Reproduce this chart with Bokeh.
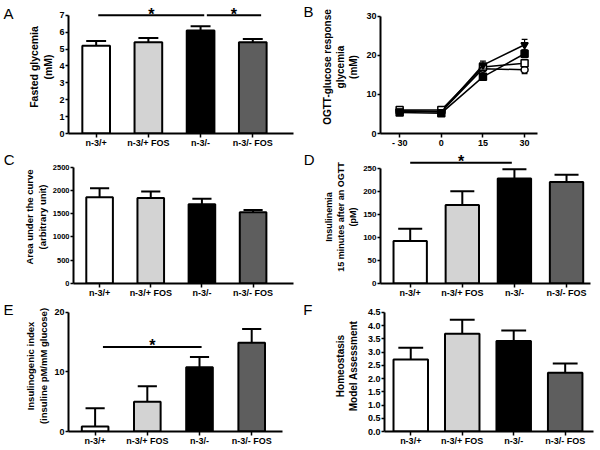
from bokeh.plotting import figure
from bokeh.layouts import column, row
from bokeh.models import FixedTicker, Range1d, LinearAxis
from bokeh.core.properties import value
from bokeh.embed import file_html
from bokeh.resources import INLINE

FONT = "Liberation Sans"

# ---------------- data ----------------
groups = ["n-3/+", "n-3/+ FOS", "n-3/-", "n-3/- FOS"]
bar_colors = ["#ffffff", "#d3d3d3", "#000000", "#5e5e5e"]

fasted_mean = [5.2, 5.4, 6.1, 5.4]
fasted_upper = [5.47, 5.65, 6.35, 5.6]

auc_mean = [1855, 1840, 1705, 1530]
auc_upper = [2050, 1980, 1820, 1578]

insulin_mean = [92, 170, 228, 220]
insulin_upper = [119, 200, 248, 236]

index_mean = [0.85, 5.0, 10.8, 14.9]
index_upper = [3.9, 7.6, 12.5, 17.2]

homa_mean = [2.72, 3.69, 3.42, 2.22]
homa_upper = [3.16, 4.22, 3.82, 2.57]

ogtt_times = ["- 30", "0", "15", "30"]
ogtt_tri = [5.7, 5.5, 17.5, 22.7]
ogtt_tri_err = [0.3, 0.3, 1.0, 1.4]
ogtt_sqf = [5.4, 5.2, 14.5, 20.4]
ogtt_sqf_err = [0.3, 0.3, 0.5, 1.0]
ogtt_sqo = [6.0, 6.0, 17.0, 18.0]
ogtt_sqo_err = [0.3, 0.3, 0.6, 0.9]
ogtt_cir = [5.8, 5.6, 16.6, 16.3]
ogtt_cir_err = [0.3, 0.3, 0.6, 1.0]

# significance bars: (x0, x1, y)
sigA = [(0.04, 2.07, 7.0), (2.12, 3.16, 7.0)]
sigD = [(0.0, 1.95, 262)]
sigE = [(0.15, 2.04, 14.2)]


def style(p, yticks, ybound, ylabel, lab_size, tick_size, xticks, xlabels, lab_standoff=2):
    p.xgrid.visible = False
    p.ygrid.visible = False
    p.outline_line_color = None
    p.background_fill_color = "white"
    p.border_fill_color = "white"
    for ax in (p.xaxis[0], p.yaxis[0]):
        ax.axis_line_width = 2
        ax.axis_line_color = "black"
        ax.major_tick_line_width = 1.5
        ax.major_tick_out = 4
        ax.major_tick_in = 0
        ax.minor_tick_line_color = None
        ax.major_label_text_font = FONT
        ax.major_label_text_font_style = "bold"
        ax.major_label_text_font_size = "9px"
        ax.major_label_text_color = "black"
        ax.axis_label_text_font = FONT
        ax.axis_label_text_font_style = "bold"
        ax.axis_label_text_font_size = lab_size
        ax.axis_label_text_color = "black"
    p.yaxis[0].ticker = FixedTicker(ticks=yticks)
    p.yaxis[0].bounds = (0, ybound)
    p.yaxis[0].axis_label = ylabel
    p.yaxis[0].axis_label_standoff = lab_standoff
    p.yaxis[0].major_label_standoff = 1
    p.yaxis[0].major_tick_out = 3
    p.yaxis[0].major_label_text_font_size = tick_size
    p.xaxis[0].axis_label = None
    p.xaxis[0].ticker = FixedTicker(ticks=xticks)
    p.xaxis[0].major_label_overrides = {t: l for t, l in zip(xticks, xlabels)}
    p.xaxis[0].major_label_standoff = 0


def panel_letter(p, text, fh, cy, standoff):
    # panel letter drawn as the single label of a bare extra axis on the left
    p.extra_y_ranges = {"lab": Range1d(0, fh)}
    t = fh - cy
    ax = LinearAxis(y_range_name="lab", ticker=FixedTicker(ticks=[t]),
                    major_label_overrides={t: text})
    ax.axis_line_color = None
    ax.major_tick_line_color = None
    ax.minor_tick_line_color = None
    ax.major_label_standoff = standoff
    ax.major_label_text_font = FONT
    ax.major_label_text_font_size = "15px"
    ax.major_label_text_font_style = "normal"
    ax.major_label_text_color = "black"
    ax.axis_label = None
    p.add_layout(ax, "left")


def yend_for(top_tick, fh, top_px):
    return top_tick * fh / (fh - top_px)


def bar_panel(means, uppers, ylabel, lab_size, tick_size, yticks, ylabels, top_px, xr, bw,
              width, height, fh, left, right, letter, cy, standoff, lab_standoff=2):
    yend = yend_for(yticks[-1], fh, top_px)
    p = figure(width=width, height=height, x_range=Range1d(*xr), y_range=Range1d(0, yend),
               output_backend="svg", toolbar_location=None,
               min_border_left=left, min_border_right=right, min_border_top=0,
               min_border_bottom=height - fh)
    xs = list(range(len(groups)))
    p.segment(x0=xs, y0=means, x1=xs, y1=uppers, line_color="black", line_width=2)
    cap = bw * 0.36
    p.segment(x0=[x - cap for x in xs], y0=uppers, x1=[x + cap for x in xs], y1=uppers,
              line_color="black", line_width=2)
    p.vbar(x=xs, top=means, width=bw, fill_color=bar_colors, line_color="black", line_width=2)
    style(p, yticks, yticks[-1], ylabel, lab_size, tick_size, xs, groups, lab_standoff)
    p.yaxis[0].major_label_overrides = {t: l for t, l in zip(yticks, ylabels)}
    panel_letter(p, letter, fh, cy, standoff)
    return p


def add_sig(p, sig):
    p.segment(x0=[s[0] for s in sig], y0=[s[2] for s in sig], x1=[s[1] for s in sig],
              y1=[s[2] for s in sig], line_color="black", line_width=2)
    p.text(x=[(s[0] + s[1]) / 2 for s in sig], y=[s[2] for s in sig], text=["*"] * len(sig),
           text_font=value(FONT), text_font_style="bold", text_font_size="16px",
           text_align="center", text_baseline="alphabetic", y_offset=-1, text_color="black")


# Row 1 ------------------------------------------------------------
R1, H1 = 150, 135
pA = bar_panel(fasted_mean, fasted_upper, "Fasted glycemia\n(mM)", "10.5px", "9px",
               [0, 1, 2, 3, 4, 5, 6, 7], ["0", "1", "2", "3", "4", "5", "6", "7"], 15,
               (-0.53, 3.78), 0.53, 300, R1, H1, 57, 7, "A", 13, 6)
add_sig(pA, sigA)

B_xr = (-0.46, 3.31)
pB = figure(width=298, height=R1, x_range=Range1d(*B_xr), y_range=Range1d(0, yend_for(30, H1, 16)),
            output_backend="svg", toolbar_location=None,
            min_border_left=66, min_border_right=61, min_border_top=0, min_border_bottom=R1 - H1)
xs = [0, 1, 2, 3]
series = [(ogtt_cir, ogtt_cir_err, "circle", "white"),
          (ogtt_sqo, ogtt_sqo_err, "square", "white"),
          (ogtt_sqf, ogtt_sqf_err, "square", "black"),
          (ogtt_tri, ogtt_tri_err, "inverted_triangle", "black")]
for vals, errs, mk, fc in series:
    pB.line(xs, vals, line_color="black", line_width=1.5)
    lo = [v - e for v, e in zip(vals, errs)]
    hi = [v + e for v, e in zip(vals, errs)]
    pB.segment(x0=xs, y0=lo, x1=xs, y1=hi, line_color="black", line_width=1.2)
    pB.segment(x0=[x - 0.07 for x in xs], y0=hi, x1=[x + 0.07 for x in xs], y1=hi,
               line_color="black", line_width=1.2)
    pB.segment(x0=[x - 0.07 for x in xs], y0=lo, x1=[x + 0.07 for x in xs], y1=lo,
               line_color="black", line_width=1.2)
    pB.scatter(xs, vals, marker=mk, size=7, fill_color=fc, line_color="black", line_width=1.5)
style(pB, [0, 10, 20, 30], 30, "OGTT-glucose response\nglycemia\n(mM)", "10px", "9px", xs, ogtt_times, 4)
panel_letter(pB, "B", H1, 11, 0)

# Row 2 ------------------------------------------------------------
R2, H2 = 150, 135
pC = bar_panel(auc_mean, auc_upper, "Area under the curve\n(arbitrary unit)", "9.5px", "7.5px",
               [0, 500, 1000, 1500, 2000, 2500], ["0", "500", "1000", "1500", "2000", "2500"], 17,
               (-0.51, 3.79), 0.52, 300, R2, H2, 58, 7, "C", 9, 0)
pD = bar_panel(insulin_mean, insulin_upper, "Insulinemia\n15 minutes after an OGTT\n(pM)", "9px", "8px",
               [0, 50, 100, 150, 200, 250], ["0", "50", "100", "150", "200", "250"], 18,
               (-0.57, 3.46), 0.64, 298, R2, H2, 63, 8, "D", 9, 1)
add_sig(pD, sigD)

# Row 3 ------------------------------------------------------------
R3, H3 = 148, 132
pE = bar_panel(index_mean, index_upper, "Insulinogenic index\n(insuline pM/mM glucose)", "9.5px", "9px",
               [0, 10, 20], ["0", "10", "20"], 12,
               (-0.51, 3.59), 0.51, 300, R3, H3, 57, 18, "E", 9, 3)
add_sig(pE, sigE)
homa_ticks = [0, 0.5, 1.0, 1.5, 2.0, 2.5, 3.0, 3.5, 4.0, 4.5]
pF = bar_panel(homa_mean, homa_upper, "Homeostasis\nModel Assessment", "10px", "9px",
               homa_ticks, ["%.1f" % t for t in homa_ticks], 12,
               (-0.51, 3.55), 0.67, 298, R3, H3, 68, 5, "F", 9, 13, 6)

layout = column(row(pA, pB), row(pC, pD), row(pE, pF))

open("out.html", "w").write(file_html(layout, INLINE))
